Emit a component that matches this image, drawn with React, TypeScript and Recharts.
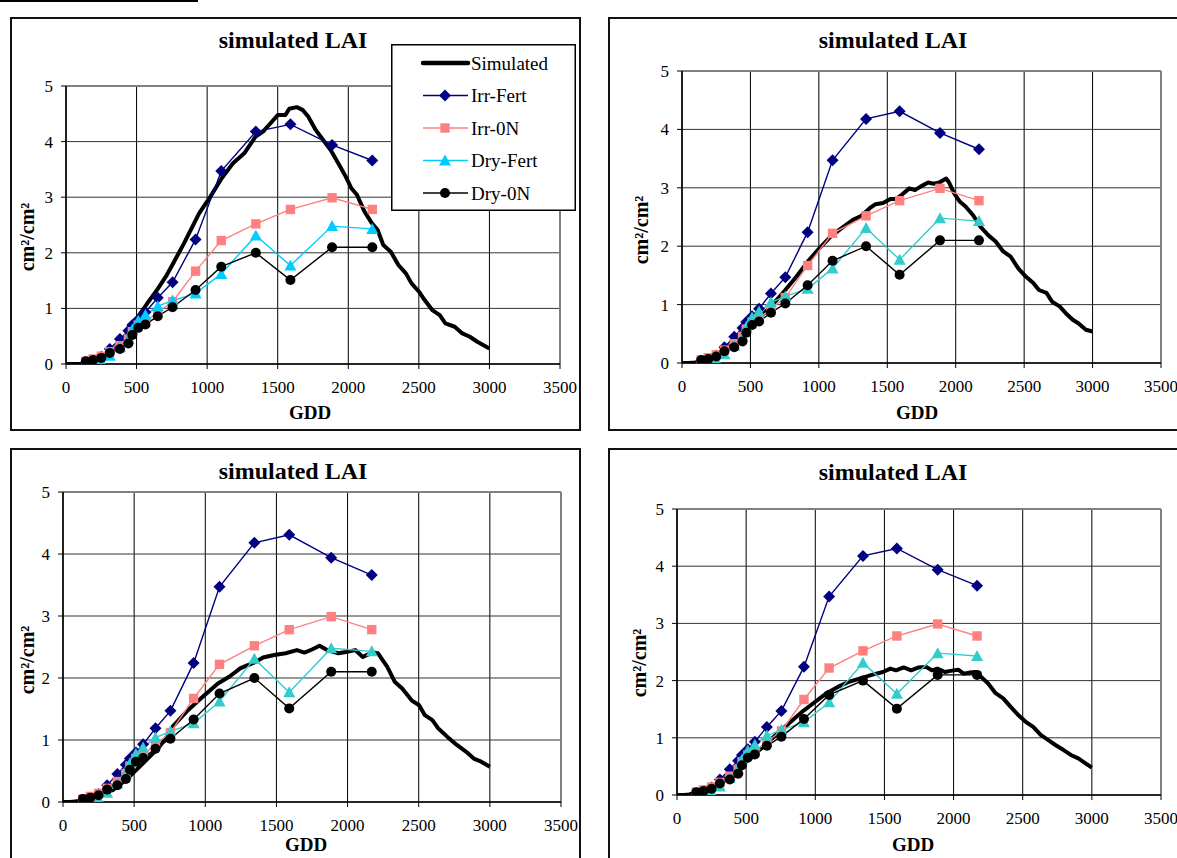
import React from "react";
import { LineChart, Line, XAxis, YAxis, CartesianGrid, ReferenceLine, Legend } from "recharts";

// observed LAI (same in every panel)
const obsGdd = [140, 192, 250, 310, 382, 442, 470, 512, 563, 650, 755, 918, 1100, 1345, 1590, 1885, 2170];
const irrFert = [0.02, 0.06, 0.13, 0.27, 0.45, 0.6, 0.7, 0.8, 0.93, 1.19, 1.47, 2.24, 3.47, 4.18, 4.31, 3.94, 3.66];
const irr0N = [0.05, 0.09, 0.14, 0.22, 0.33, 0.45, 0.58, 0.7, 0.76, 0.93, 1.12, 1.67, 2.22, 2.52, 2.78, 2.99, 2.78];
const dryFert = [0.0, 0.01, 0.05, 0.15, 0.3, 0.45, 0.62, 0.78, 0.88, 1.04, 1.14, 1.27, 1.62, 2.31, 1.77, 2.48, 2.43];
const dry0N = [0.05, 0.07, 0.11, 0.2, 0.27, 0.37, 0.52, 0.65, 0.71, 0.86, 1.02, 1.33, 1.75, 2.0, 1.51, 2.1, 2.1];

// simulated curves, one per panel
const sim1Gdd = [0, 50, 110, 150, 200, 250, 300, 350, 400, 450, 500, 524, 570, 650, 714, 757, 836, 943, 1023, 1103, 1183, 1263, 1343, 1396, 1449, 1502, 1555, 1582, 1635, 1676, 1716, 1769, 1822, 1875, 1929, 1982, 2022, 2062, 2115, 2168, 2208, 2248, 2301, 2355, 2408, 2448, 2501, 2541, 2595, 2648, 2688, 2754, 2808, 2861, 2914, 3000];
const sim1Lai = [0, 0, 0, 0.02, 0.05, 0.1, 0.18, 0.28, 0.42, 0.6, 0.8, 0.9, 1.07, 1.35, 1.6, 1.8, 2.17, 2.71, 3.01, 3.34, 3.61, 3.79, 4.09, 4.18, 4.33, 4.48, 4.48, 4.59, 4.62, 4.57, 4.45, 4.21, 4.03, 3.85, 3.61, 3.37, 3.16, 3.04, 2.74, 2.53, 2.41, 2.14, 2.02, 1.78, 1.63, 1.45, 1.3, 1.15, 0.97, 0.88, 0.73, 0.67, 0.55, 0.49, 0.4, 0.28];

const sim2Gdd = [0, 50, 96, 150, 233, 316, 425, 508, 590, 673, 755, 837, 920, 1002, 1084, 1166, 1249, 1304, 1372, 1414, 1469, 1523, 1565, 1606, 1661, 1702, 1743, 1798, 1839, 1880, 1930, 1949, 1990, 2031, 2072, 2127, 2182, 2237, 2292, 2347, 2402, 2457, 2512, 2567, 2608, 2663, 2704, 2759, 2814, 2855, 2896, 2951, 3000];
const sim2Lai = [0, 0, 0.01, 0.04, 0.11, 0.22, 0.46, 0.65, 0.83, 1.03, 1.25, 1.48, 1.74, 1.96, 2.16, 2.31, 2.45, 2.51, 2.65, 2.72, 2.74, 2.81, 2.81, 2.88, 2.99, 2.96, 3.02, 3.09, 3.07, 3.09, 3.16, 3.1, 2.9, 2.76, 2.68, 2.53, 2.33, 2.19, 2.08, 1.91, 1.82, 1.62, 1.48, 1.37, 1.25, 1.2, 1.05, 0.97, 0.83, 0.74, 0.68, 0.57, 0.54];

const sim3Gdd = [0, 50, 85, 150, 217, 349, 455, 560, 666, 720, 772, 878, 984, 1089, 1168, 1248, 1354, 1406, 1485, 1565, 1644, 1697, 1750, 1803, 1856, 1935, 1988, 2054, 2107, 2173, 2213, 2279, 2331, 2384, 2450, 2503, 2543, 2596, 2636, 2702, 2768, 2834, 2887, 2939, 3000];
const sim3Lai = [0, 0, 0.01, 0.03, 0.08, 0.19, 0.38, 0.62, 0.86, 1.02, 1.22, 1.48, 1.7, 1.91, 2.02, 2.16, 2.26, 2.33, 2.37, 2.4, 2.45, 2.41, 2.46, 2.52, 2.45, 2.4, 2.42, 2.45, 2.34, 2.41, 2.4, 2.18, 1.94, 1.83, 1.64, 1.56, 1.4, 1.32, 1.19, 1.05, 0.92, 0.81, 0.7, 0.65, 0.57];

const sim4Gdd = [0, 50, 90, 185, 293, 402, 511, 620, 728, 837, 918, 1000, 1082, 1163, 1245, 1326, 1408, 1489, 1543, 1584, 1639, 1693, 1747, 1802, 1842, 1883, 1938, 1978, 2033, 2073, 2114, 2155, 2196, 2250, 2304, 2359, 2413, 2467, 2522, 2576, 2630, 2685, 2739, 2793, 2848, 2902, 2957, 3000];
const sim4Lai = [0, 0, 0.01, 0.09, 0.2, 0.38, 0.61, 0.84, 1.08, 1.31, 1.48, 1.63, 1.78, 1.89, 1.98, 2.04, 2.1, 2.15, 2.21, 2.18, 2.23, 2.18, 2.23, 2.24, 2.18, 2.21, 2.15, 2.17, 2.19, 2.12, 2.14, 2.15, 2.07, 1.95, 1.78, 1.69, 1.54, 1.4, 1.28, 1.19, 1.05, 0.96, 0.87, 0.79, 0.7, 0.64, 0.55, 0.48];

const xTicks = [0, 500, 1000, 1500, 2000, 2500, 3000, 3500];
const yTicks = [0, 1, 2, 3, 4, 5];
const seriesNames = ["Simulated", "Irr-Fert", "Irr-0N", "Dry-Fert", "Dry-0N"];

const FONT = '"Liberation Serif", "Times New Roman", serif';
const NAVY = "#000080";
const SALMON = "#FF8080";

const obsRows = obsGdd.map((g, i) => ({
  gdd: g,
  irrFert: irrFert[i],
  irr0N: irr0N[i],
  dryFert: dryFert[i],
  dry0N: dry0N[i],
}));

const toRows = (gdd: number[], lai: number[]) => gdd.map((g, i) => ({ gdd: g, lai: lai[i] }));

const panels = [
  {
    sim: toRows(sim1Gdd, sim1Lai),
    box: { left: 10, top: 17, width: 571, height: 414 },
    plot: { left: 66, right: 560, top: 86, bottom: 364 },
    title: { x: 293, y: 40 },
    gdd: { x: 310, y: 413 },
    ylab: { x: 27, y: 237 },
    tri: "#00CCFF",
    legend: true,
  },
  {
    sim: toRows(sim2Gdd, sim2Lai),
    box: { left: 608, top: 17, width: 600, height: 414 },
    plot: { left: 682, right: 1161, top: 71, bottom: 363 },
    title: { x: 893, y: 40 },
    gdd: { x: 917, y: 413 },
    ylab: { x: 641, y: 230 },
    tri: "#33CCCC",
    legend: false,
  },
  {
    sim: toRows(sim3Gdd, sim3Lai),
    box: { left: 10, top: 448, width: 571, height: 430 },
    plot: { left: 63, right: 561, top: 492, bottom: 802 },
    title: { x: 293, y: 471 },
    gdd: { x: 306, y: 845 },
    ylab: { x: 27, y: 660 },
    tri: "#33CCCC",
    legend: false,
  },
  {
    sim: toRows(sim4Gdd, sim4Lai),
    box: { left: 608, top: 448, width: 600, height: 430 },
    plot: { left: 677, right: 1161, top: 509, bottom: 795 },
    title: { x: 893, y: 472 },
    gdd: { x: 913, y: 845 },
    ylab: { x: 639, y: 663 },
    tri: "#33CCCC",
    legend: false,
  },
];

function Marker({ shape, cx, cy, color }: { shape: string; cx: number; cy: number; color: string }) {
  if (shape === "diamond") {
    const r = 6;
    return <polygon points={`${cx},${cy - r} ${cx + r},${cy} ${cx},${cy + r} ${cx - r},${cy}`} fill={color} />;
  }
  if (shape === "square") {
    return <rect x={cx - 4.7} y={cy - 4.7} width={9.4} height={9.4} fill={color} />;
  }
  if (shape === "triangle") {
    return <polygon points={`${cx},${cy - 6} ${cx + 6},${cy + 5} ${cx - 6},${cy + 5}`} fill={color} />;
  }
  return <circle cx={cx} cy={cy} r={5} fill={color} />;
}

const dotFor = (shape: string, color: string) => (props: any) => {
  const { cx, cy, index } = props;
  if (cx == null || cy == null) return <g key={`${shape}-${index}`} />;
  return (
    <g key={`${shape}-${index}`}>
      <Marker shape={shape} cx={cx} cy={cy} color={color} />
    </g>
  );
};

function LegendBox({ tri }: { tri: string }) {
  const rows = [
    { color: "#000", width: 4.5, shape: "" },
    { color: NAVY, width: 1.5, shape: "diamond" },
    { color: SALMON, width: 1.5, shape: "square" },
    { color: tri, width: 1.5, shape: "triangle" },
    { color: "#000", width: 1.5, shape: "circle" },
  ];
  return (
    <svg width={185} height={167} style={{ display: "block" }}>
      <rect x={0.75} y={0.75} width={183.5} height={165.5} fill="#fff" stroke="#000" strokeWidth={1.5} />
      {rows.map((r, i) => {
        const y = 19 + i * 32.5;
        return (
          <g key={seriesNames[i]}>
            <line x1={32} x2={77} y1={y} y2={y} stroke={r.color} strokeWidth={r.width} strokeLinecap={i === 0 ? "round" : "butt"} />
            {r.shape && <Marker shape={r.shape} cx={54} cy={y} color={r.color} />}
            <text x={80} y={y} dominantBaseline="central" fontFamily={FONT} fontSize={19} fill="#000">
              {seriesNames[i]}
            </text>
          </g>
        );
      })}
    </svg>
  );
}

function Panel({ p }: { p: (typeof panels)[number] }) {
  const W = Math.min(p.box.width, 1177 - p.box.left);
  const H = Math.min(p.box.height, 858 - p.box.top);
  const yw = 40;
  const xh = 30;
  const margin = {
    top: p.plot.top - p.box.top,
    right: p.box.left + W - p.plot.right,
    bottom: p.box.top + H - p.plot.bottom - xh,
    left: p.plot.left - p.box.left - yw,
  };
  const tickStyle = { fontSize: 17, fill: "#000", fontFamily: FONT };

  return (
    <>
      <div
        style={{
          position: "absolute",
          left: p.box.left,
          top: p.box.top,
          width: p.box.width,
          height: p.box.height,
          border: "2px solid #111",
          boxSizing: "border-box",
        }}
      />
      <div style={{ position: "absolute", left: p.box.left, top: p.box.top, width: W, height: H }}>
        <LineChart width={W} height={H} margin={margin}>
          <CartesianGrid horizontal={false} stroke="#000" strokeWidth={1} />
          <CartesianGrid vertical={false} stroke="#333" strokeWidth={1} />
          <XAxis
            type="number"
            dataKey="gdd"
            domain={[0, 3500]}
            ticks={xTicks}
            interval={0}
            height={xh}
            tick={tickStyle}
            tickSize={5}
            tickMargin={12}
            axisLine={{ stroke: "#000", strokeWidth: 1.5 }}
            tickLine={{ stroke: "#000" }}
            allowDataOverflow
          />
          <YAxis
            type="number"
            domain={[0, 5]}
            ticks={yTicks}
            interval={0}
            width={yw}
            tick={tickStyle}
            tickSize={5}
            tickMargin={8}
            axisLine={{ stroke: "#000", strokeWidth: 1.5 }}
            tickLine={{ stroke: "#000" }}
            allowDataOverflow
          />
          <ReferenceLine y={5} stroke="#808080" strokeWidth={2} />
          <ReferenceLine x={3500} stroke="#808080" strokeWidth={2} />
          <Line data={p.sim} dataKey="lai" type="linear" stroke="#000" strokeWidth={4} strokeLinejoin="round" dot={false} activeDot={false} isAnimationActive={false} />
          <Line data={obsRows} dataKey="irrFert" type="linear" stroke={NAVY} strokeWidth={1.4} dot={dotFor("diamond", NAVY)} activeDot={false} isAnimationActive={false} />
          <Line data={obsRows} dataKey="irr0N" type="linear" stroke={SALMON} strokeWidth={1.4} dot={dotFor("square", SALMON)} activeDot={false} isAnimationActive={false} />
          <Line data={obsRows} dataKey="dryFert" type="linear" stroke={p.tri} strokeWidth={1.4} dot={dotFor("triangle", p.tri)} activeDot={false} isAnimationActive={false} />
          <Line data={obsRows} dataKey="dry0N" type="linear" stroke="#000" strokeWidth={1.4} dot={dotFor("circle", "#000")} activeDot={false} isAnimationActive={false} />
          {p.legend && (
            <Legend
              layout="vertical"
              align="center"
              verticalAlign="middle"
              content={() => <LegendBox tri={p.tri} />}
              wrapperStyle={{ left: 391 - p.box.left, top: 44 - p.box.top, width: 185, height: 167 }}
            />
          )}
        </LineChart>
      </div>
      <div
        style={{
          position: "absolute",
          left: p.title.x - 150,
          top: p.title.y - 12,
          width: 300,
          height: 24,
          lineHeight: "24px",
          textAlign: "center",
          fontFamily: FONT,
          fontWeight: "bold",
          fontSize: 24,
        }}
      >
        simulated LAI
      </div>
      <div
        style={{
          position: "absolute",
          left: p.gdd.x - 50,
          top: p.gdd.y - 10,
          width: 100,
          height: 19,
          lineHeight: "19px",
          textAlign: "center",
          fontFamily: FONT,
          fontWeight: "bold",
          fontSize: 19,
        }}
      >
        GDD
      </div>
      <div
        style={{
          position: "absolute",
          left: p.ylab.x - 60,
          top: p.ylab.y - 10,
          width: 120,
          height: 20,
          lineHeight: "20px",
          textAlign: "center",
          fontFamily: FONT,
          fontWeight: "bold",
          fontSize: 20,
          transform: "rotate(-90deg)",
        }}
      >
        cm²/cm²
      </div>
    </>
  );
}

export default function App() {
  return (
    <div
      style={{
        position: "absolute",
        left: 0,
        top: 0,
        width: 1177,
        height: 858,
        overflow: "hidden",
        background: "#fff",
      }}
    >
      <div style={{ position: "absolute", left: 0, top: 0, width: 198, height: 2, background: "#000" }} />
      {panels.map((p, i) => (
        <Panel key={i} p={p} />
      ))}
    </div>
  );
}
